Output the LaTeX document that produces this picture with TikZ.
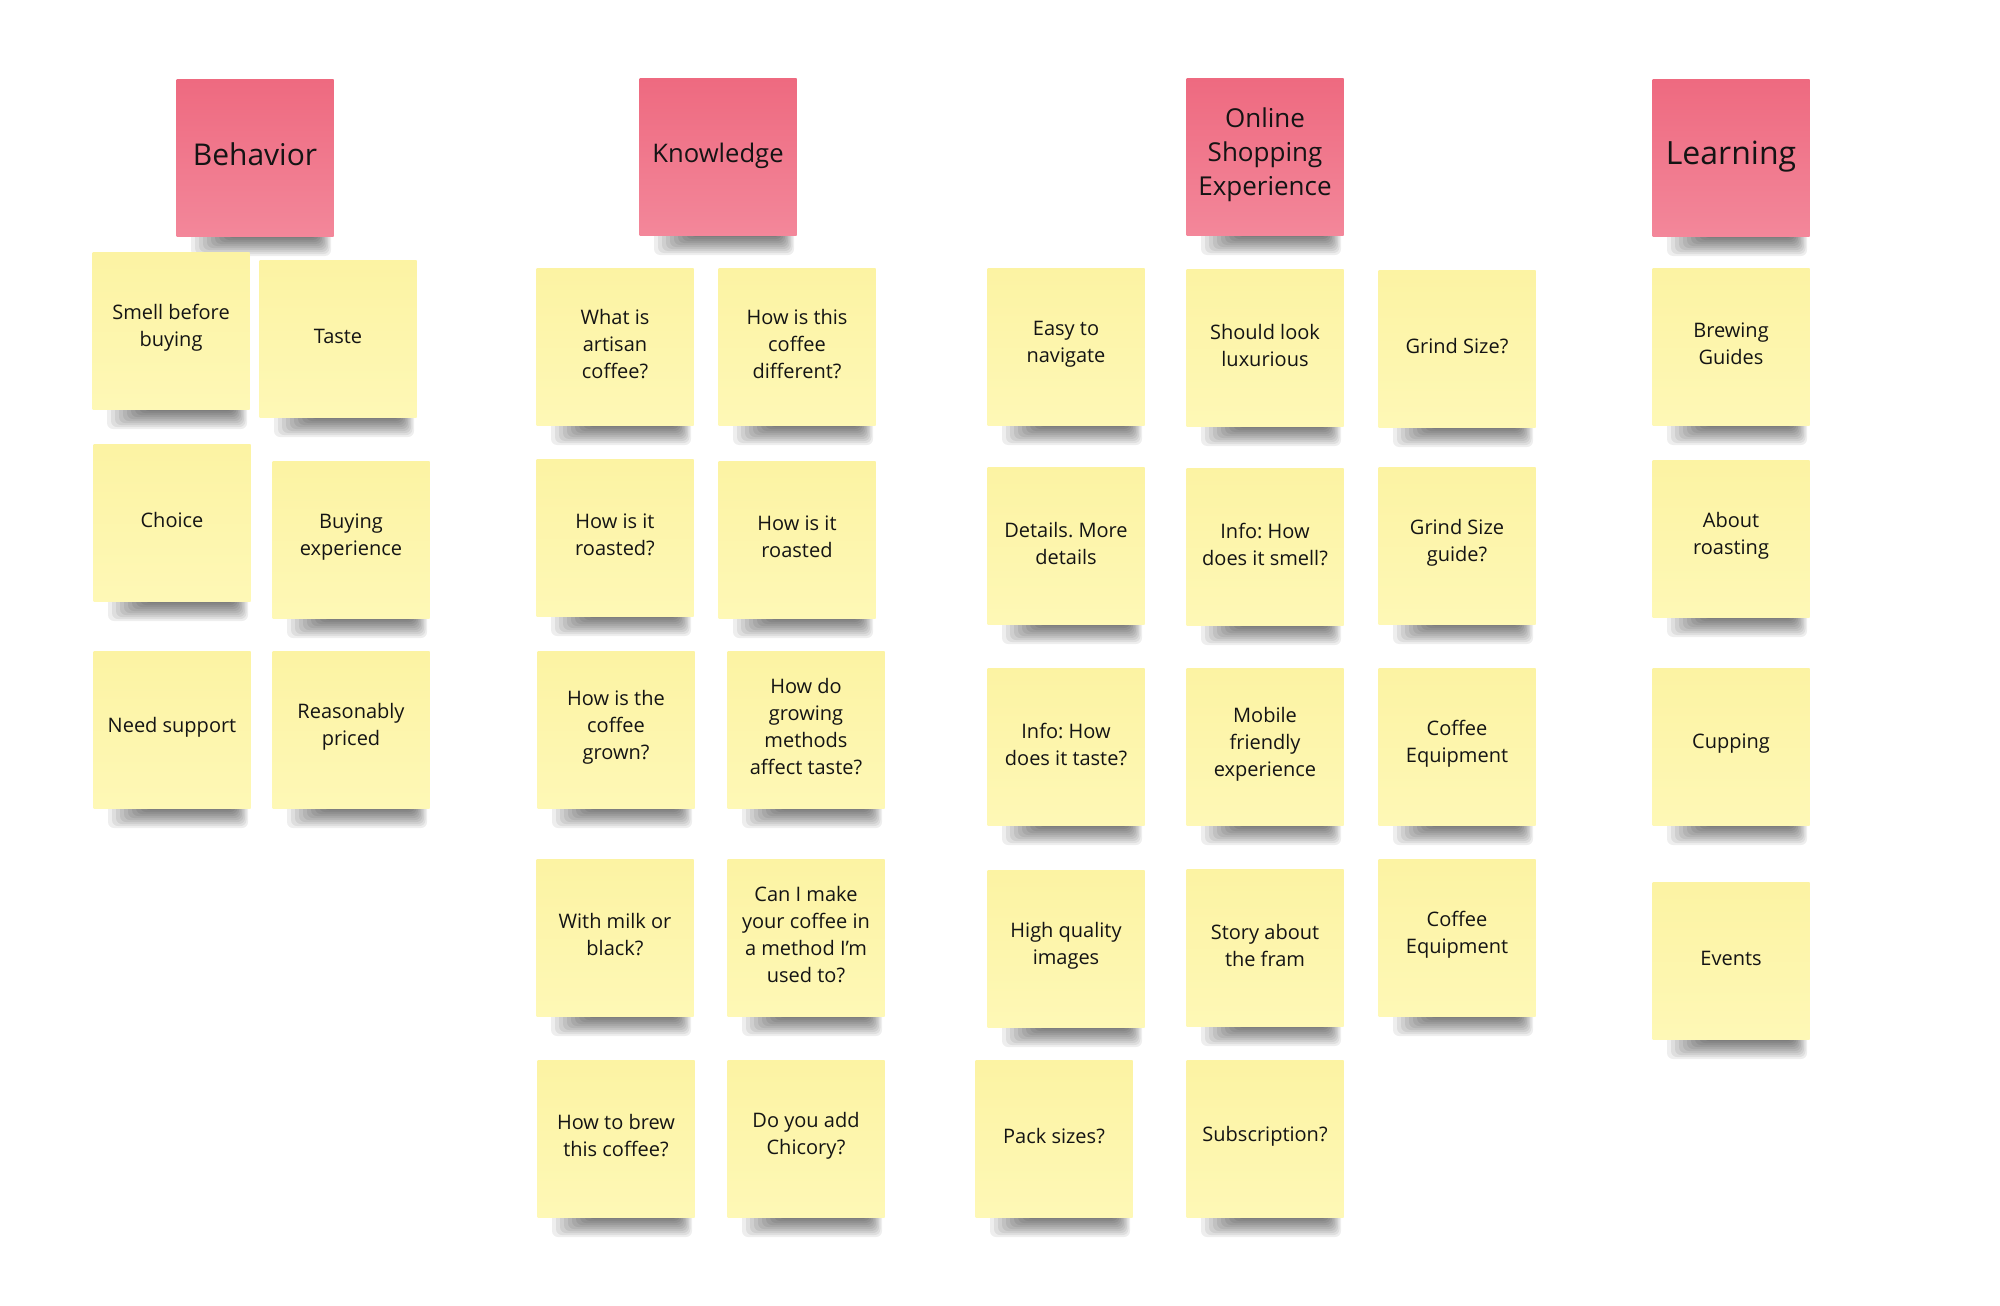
\documentclass[tikz,border=0pt]{standalone}
\usepackage{fontspec}
\setmainfont{Open Sans}
\usepackage{tikz}
\usetikzlibrary{positioning, calc}
\usepackage{xcolor}
\frenchspacing

\definecolor{pinktop}{HTML}{EE6A80}
\definecolor{pinkbot}{HTML}{F3879A}
\definecolor{yeltop}{HTML}{FCF3A3}
\definecolor{yelbot}{HTML}{FEF8B6}
\definecolor{ink}{HTML}{141414}

% soft shadow under a sticky note centred at (#1,#2)
\newcommand{\noteshadow}[2]{%
  \foreach \k in {0,...,9}
    \fill[black, opacity=.065, rounded corners=3pt]
      ({#1-64+4*\k},{#2+66}) rectangle ({#1+76-1.5*\k},{#2+98-2*\k});%
}
% note text, lifted a little above the centre
\newcommand{\notetext}[2][1.5pt]{%
  \raisebox{0pt}[\height][\dimexpr\depth+#1+#1\relax]{\parbox{72pt}{\centering #2}}}

\begin{document}
\begin{tikzpicture}[
    x=0.5pt, y=-0.5pt,
    note/.style={minimum size=78.5pt, inner sep=0pt, top color=yeltop, bottom color=yelbot,
                 text=ink, font=\fontsize{10}{13.5}\selectfont},
    head/.style={note, top color=pinktop, bottom color=pinkbot}
]
\fill[white] (0,0) rectangle (2000,1305);

% category headers
\noteshadow{255}{158}
\node[head, font=\fontsize{15}{17}\selectfont] (behavior) at (255,158) {\notetext[2pt]{Behavior}};
\noteshadow{718}{157}
\node[head, font=\fontsize{12.8}{16}\selectfont] (knowledge) at (718,157) {\notetext[0.6pt]{Knowledge}};
\noteshadow{1265}{157}
\node[head, font=\fontsize{13}{17}\selectfont] (online) at (1265,157) {\notetext[1.2pt]{Online\\Shopping\\Experience}};
\noteshadow{1731}{158}
\node[head, font=\fontsize{16}{17}\selectfont] (learning) at (1731,158) {\notetext[0.6pt]{Learning}};

% sticky notes
\foreach \nx/\ny/\nm/\txt in {
    171/331/smell/{Smell before\\buying},
    338/339/taste/{Taste},
    172/523/choice/{Choice},
    351/540/buyexp/{Buying\\experience},
    172/730/support/{Need support},
    351/730/priced/{Reasonably\\priced},
    615/347/artisan/{What is\\artisan\\coffee?},
    797/347/different/{How is this\\coffee\\different?},
    615/538/roastedq/{How is it\\roasted?},
    797/540/roasted/{How is it\\roasted},
    616/730/grown/{How is the\\coffee\\grown?},
    806/730/methods/{How do\\growing\\methods\\affect taste?},
    615/938/milk/{With milk or\\black?},
    806/938/usedto/{Can I make\\your coffee in\\a method I'm\\used to?},
    616/1139/brew/{How to brew\\this coffee?},
    806/1139/chicory/{Do you add\\Chicory?},
    1066/347/navigate/{Easy to\\navigate},
    1265/348/luxury/{Should look\\luxurious},
    1457/349/grind/{Grind Size?},
    1066/546/details/{Details. More\\details},
    1265/547/infosmell/{Info: How\\does it smell?},
    1457/546/grindguide/{Grind Size\\guide?},
    1066/747/infotaste/{Info: How\\does it taste?},
    1265/747/mobile/{Mobile\\friendly\\experience},
    1457/747/equipa/{Coffee\\Equipment},
    1066/949/images/{High quality\\images},
    1265/948/story/{Story about\\the fram},
    1457/938/equipb/{Coffee\\Equipment},
    1054/1139/packs/{Pack sizes?},
    1265/1139/subscr/{Subscription?},
    1731/347/guides/{Brewing\\Guides},
    1731/539/roasting/{About\\roasting},
    1731/747/cupping/{Cupping},
    1731/961/events/{Events}} {
  \noteshadow{\nx}{\ny}
  \node[note] (\nm) at (\nx,\ny) {\notetext{\txt}};
}
\end{tikzpicture}
\end{document}
